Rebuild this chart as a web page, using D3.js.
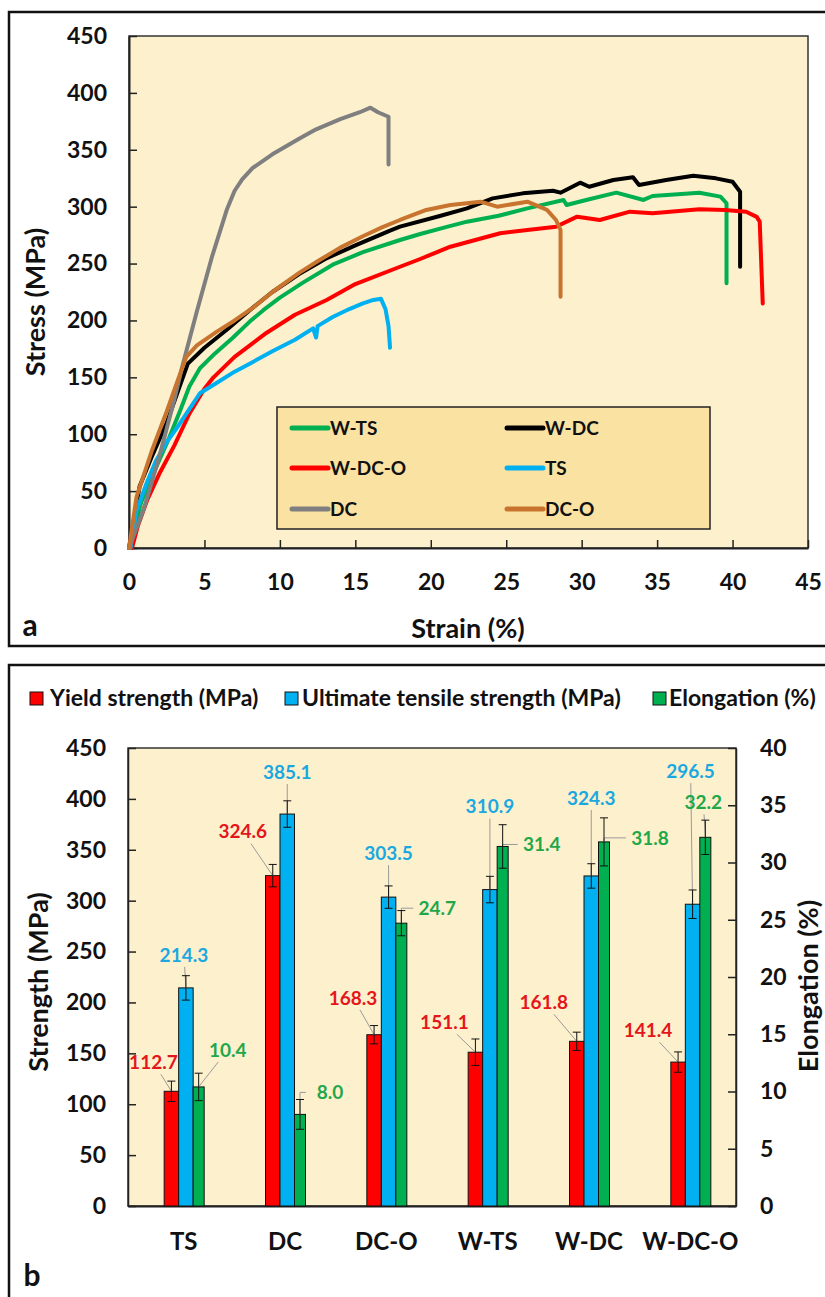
<!DOCTYPE html>
<html>
<head>
<meta charset="utf-8">
<script src="https://cdn.jsdelivr.net/npm/d3@7"></script>
<style>
  body { margin: 0; background: #fff; }
  svg text { font-family: Lato, "Open Sans", sans-serif; font-weight: 700; }
</style>
</head>
<body>
<svg id="chart" width="825" height="1297"></svg>
<script>
// ---- panel a: stress-strain curves, [strain %, stress MPa]
const curveNames = ["W-TS", "W-DC", "W-DC-O", "TS", "DC", "DC-O"]
const curveColors = ["#00B050", "#000000", "#FF0000", "#00B0F0", "#7F7F7F", "#C8742F"]

const wTS = [[0,0],[0.8,40],[1.8,71],[2.6,95],[3.4,121],[4,142],[4.7,158],[5.7,171],[6.9,185],[8,199],[8.9,209],[10,220],
  [11.5,233],[13.5,249],[15.5,260],[17.96,270.7],[19.3,276],[21,282],[22.4,286.8],[24.5,292],[26.4,298.5],[28.8,305.9],
  [29,301.5],[30.3,305.9],[32.3,312.3],[34.1,305.9],[34.7,309.4],[37.8,312.3],[39.2,308.8],[39.6,303],[39.6,232.6]]
const wDC = [[0,0],[0.7,54],[1.5,80],[2.5,110],[3.3,140],[3.9,162],[5,176],[6.5,192],[8,209],[9.5,225],[11.3,241],[13,254],
  [15,266],[17.3,279],[17.96,282.4],[20.6,291.8],[22.4,298.5],[24.1,307.3],[26.1,311.7],[28.1,314],[28.6,312.3],[29.9,321.1],
  [30.5,317.5],[32.1,323.4],[33.4,325.8],[33.8,319],[35.6,323.4],[37.4,327.2],[38.9,324.9],[40,321.9],[40.5,313.1],[40.5,247.2]]
const wDCO = [[0.2,0],[0.6,20],[1.2,42],[2,65],[3,90],[4,118],[5,140],[5.6,150],[7,168],[9.1,189],[11,205],[13.1,218],
  [15,232],[17.96,247.2],[19.3,254],[21.3,264.8],[24.6,276.6],[26.4,279.5],[28.3,282.4],[29.7,291.2],[31.2,288.3],
  [33.2,295.6],[34.7,294.2],[37.8,297.7],[39.5,297],[40.9,295.6],[41.6,291],[41.8,286.8],[42,215]]
const tsCurve = [[0.1,0],[0.5,33],[1.2,58],[1.8,77],[2.5,93],[3.2,106],[4,122],[4.7,136],[5.8,145],[7,155],[8,162],
  [9.5,173],[11,183],[12.2,193],[12.4,185],[12.5,195],[13.5,203],[14.6,210],[15.5,215],[16.2,218],[16.7,219],
  [17,210],[17.2,195],[17.3,176]]
const dcCurve = [[0,0],[1,35],[2,80],[3,130],[3.5,158],[4.5,208],[5.5,256],[6.5,298],[7,314],[7.5,324],[8.2,334],[9.5,346],
  [11.3,360],[12.4,368],[14,377],[15.3,383],[16,387],[16.5,383],[17.2,379],[17.2,337]]
const dcoCurve = [[0,0],[0.5,45],[1.5,85],[2.5,120],[3.3,150],[3.8,168],[4.5,178],[5.8,190],[7,200],[8.2,211],[9.5,225],
  [11.3,242],[12.5,252],[14,264],[15.5,274],[16.8,282],[17.96,288.3],[19.7,297.1],[21.3,301.5],[23.3,304.4],[24.4,300],
  [26.4,304.4],[27.7,297.1],[28.3,288.3],[28.6,279.5],[28.6,220.9]]
const curveData = [wTS, wDC, wDCO, tsCurve, dcCurve, dcoCurve]

const strainTicks = [0, 5, 10, 15, 20, 25, 30, 35, 40, 45]
const stressTicks = [0, 50, 100, 150, 200, 250, 300, 350, 400, 450]

// ---- panel b: mechanical properties
const categories = ["TS", "DC", "DC-O", "W-TS", "W-DC", "W-DC-O"]
const yieldStrength = [112.7, 324.6, 168.3, 151.1, 161.8, 141.4]
const yieldErr = [10, 11, 9, 13, 9, 10]
const uts = [214.3, 385.1, 303.5, 310.9, 324.3, 296.5]
const utsErr = [12, 13, 11, 13, 12, 14]
const elongation = [10.4, 8.0, 24.7, 31.4, 31.8, 32.2]
const elongErr = [1.2, 1.3, 1.1, 1.9, 2.1, 1.5]
const strengthTicks = [0, 50, 100, 150, 200, 250, 300, 350, 400, 450]
const elongTicks = [0, 5, 10, 15, 20, 25, 30, 35, 40]
const seriesNames = ["Yield strength (MPa)", "Ultimate tensile strength (MPa)", "Elongation (%)"]

// label placement (offset from bar top) and leader style
const yieldLabelPos = [[-18,-29],[-30,-44],[-21,-37],[-31,-30],[-33,-39],[-30,-32]]
const utsLabelPos = [[-2,-33],[0,-42],[0,-44],[0,-83],[0,-78],[-2,-133]]
const elongLabelPos = [[29,-37,"line"],[30,-22,"elbow"],[36,-15,"elbow"],[39,-2,"elbow"],[46,-4,"elbow"],[-2,-35,"line"]]

const svg = d3.select("#chart")
const PLOT_BG = "#FDF0CD"
const TICK_FS = 23, TITLE_FS = 27

// panel frames
svg.append("rect").attr("x", 9).attr("y", 12).attr("width", 830).attr("height", 634)
  .attr("fill", "none").attr("stroke", "#111").attr("stroke-width", 2.5)
svg.append("rect").attr("x", 9).attr("y", 665).attr("width", 830).attr("height", 660)
  .attr("fill", "none").attr("stroke", "#111").attr("stroke-width", 2.5)

// ================= panel a =================
const xA = d3.scaleLinear().domain([0, 45]).range([129, 808])
const yA = d3.scaleLinear().domain([0, 450]).range([548, 36])

svg.append("rect").attr("x", xA(0)).attr("y", yA(450)).attr("width", xA(45) - xA(0)).attr("height", yA(0) - yA(450))
  .attr("fill", PLOT_BG).attr("stroke", "#333").attr("stroke-width", 1.5)

const axA = svg.append("g").attr("transform", `translate(0,${yA(0)})`)
  .call(d3.axisBottom(xA).tickValues(strainTicks).tickSizeInner(-8).tickSizeOuter(0).tickPadding(26))
const ayA = svg.append("g").attr("transform", `translate(${xA(0)},0)`)
  .call(d3.axisLeft(yA).tickValues(stressTicks).tickSizeInner(-8).tickSizeOuter(0).tickPadding(22))
;[axA, ayA].forEach(g => {
  g.select(".domain").attr("stroke", "#222").attr("stroke-width", 2)
  g.selectAll(".tick line").attr("stroke", "#222").attr("stroke-width", 1.5)
  g.selectAll("text").attr("font-size", TICK_FS).attr("fill", "#111")
})

const lineA = d3.line().x(d => xA(d[0])).y(d => yA(d[1]))
svg.append("g").selectAll("path").data(curveData).join("path")
  .attr("d", lineA).attr("fill", "none")
  .attr("stroke", (d, i) => curveColors[i]).attr("stroke-width", 4)
  .attr("stroke-linejoin", "round").attr("stroke-linecap", "round")

// legend
const legA = svg.append("g")
legA.append("rect").attr("x", 277).attr("y", 407).attr("width", 433).attr("height", 122)
  .attr("fill", "#FAE2A2").attr("stroke", "#222").attr("stroke-width", 1.5)
curveNames.forEach((name, i) => {
  const lx = i % 2 === 0 ? 292 : 507
  const ly = [428, 468, 509][Math.floor(i / 2)]
  legA.append("line").attr("x1", lx).attr("x2", lx + 36).attr("y1", ly).attr("y2", ly)
    .attr("stroke", curveColors[i]).attr("stroke-width", 5).attr("stroke-linecap", "round")
  legA.append("text").attr("x", lx + 38).attr("y", ly).attr("dy", "0.36em")
    .attr("font-size", 19).attr("fill", "#111").text(name)
})

svg.append("text").attr("x", 468).attr("y", 628).attr("dy", "0.36em").attr("text-anchor", "middle")
  .attr("font-size", TITLE_FS).attr("fill", "#111").text("Strain (%)")
svg.append("text").attr("transform", "translate(35,302) rotate(-90)").attr("dy", "0.36em")
  .attr("text-anchor", "middle").attr("font-size", TITLE_FS).attr("fill", "#111").text("Stress (MPa)")
svg.append("text").attr("x", 30).attr("y", 625).attr("dy", "0.36em").attr("text-anchor", "middle")
  .attr("font-size", 30).attr("fill", "#111").text("a")

// ================= panel b =================
const xB = d3.scaleBand().domain(categories).range([128, 736])
const yL = d3.scaleLinear().domain([0, 450]).range([1206, 748])
const yR = d3.scaleLinear().domain([0, 40]).range([1206, 748])
const BAR_W = 14.5, GREEN_W = 11
const center = c => xB(c) + xB.bandwidth() / 2

svg.append("rect").attr("x", 128).attr("y", yL(450)).attr("width", 608).attr("height", yL(0) - yL(450))
  .attr("fill", PLOT_BG).attr("stroke", "#333").attr("stroke-width", 1.5)

const ayL = svg.append("g").attr("transform", "translate(128,0)")
  .call(d3.axisLeft(yL).tickValues(strengthTicks).tickSizeInner(-8).tickSizeOuter(0).tickPadding(22))
const ayR = svg.append("g").attr("transform", "translate(736,0)")
  .call(d3.axisRight(yR).tickValues(elongTicks).tickSizeInner(-8).tickSizeOuter(0).tickPadding(24))
;[ayL, ayR].forEach(g => {
  g.select(".domain").attr("stroke", "#222").attr("stroke-width", 1.5)
  g.selectAll(".tick line").attr("stroke", "#222").attr("stroke-width", 1.5)
  g.selectAll("text").attr("font-size", TICK_FS).attr("fill", "#111")
})
const axB = svg.append("g").attr("transform", `translate(0,${yL(0)})`)
  .call(d3.axisBottom(xB).tickSize(0).tickPadding(27))
axB.select(".domain").attr("stroke", "#222").attr("stroke-width", 2)
axB.selectAll("text").attr("font-size", 24).attr("fill", "#111").attr("dx", 5)

const series = [
  { vals: yieldStrength, err: yieldErr, y: yL, color: "#FF0000", text: "#E4161B", x0: -BAR_W, w: BAR_W, pos: yieldLabelPos, fmt: d3.format(".1f") },
  { vals: uts, err: utsErr, y: yL, color: "#00B0F0", text: "#1BA8E0", x0: 0, w: BAR_W, pos: utsLabelPos, fmt: d3.format(".1f") },
  { vals: elongation, err: elongErr, y: yR, color: "#00B050", text: "#1FA84A", x0: BAR_W, w: GREEN_W, pos: elongLabelPos, fmt: d3.format(".1f") }
]

series.forEach(s => {
  const g = svg.append("g")
  g.selectAll("rect").data(categories).join("rect")
    .attr("x", c => center(c) + s.x0).attr("width", s.w)
    .attr("y", (c, i) => s.y(s.vals[i])).attr("height", (c, i) => s.y(0) - s.y(s.vals[i]))
    .attr("fill", s.color).attr("stroke", "#111").attr("stroke-width", 1)
})

// leader lines + labels
series.forEach(s => {
  categories.forEach((c, i) => {
    const bx = center(c) + s.x0 + s.w / 2
    const by = s.y(s.vals[i])
    const [dx, dy, kind] = s.pos[i]
    const lx = bx + dx, ly = by + dy
    const hw = 26, hh = 12
    let path
    if (kind === "elbow") {
      const sx = lx - hw + 2
      path = `M${sx},${ly}H${bx}V${by}`
    } else {
      const t = Math.min(Math.abs(dx) > 0.1 ? hw / Math.abs(dx) : 1e9, Math.abs(dy) > 0.1 ? hh / Math.abs(dy) : 1e9)
      path = `M${lx - dx * t},${ly - dy * t}L${bx},${by}`
    }
    svg.append("path").attr("d", path).attr("fill", "none").attr("stroke", "#9A9A9A").attr("stroke-width", 1)
    svg.append("text").attr("x", lx).attr("y", ly).attr("dy", "0.36em").attr("text-anchor", "middle")
      .attr("font-size", 19).attr("fill", s.text).text(s.fmt(s.vals[i]))
  })
})

// error bars
series.forEach(s => {
  categories.forEach((c, i) => {
    const bx = center(c) + s.x0 + s.w / 2
    const top = s.y(s.vals[i] + s.err[i]), bot = s.y(s.vals[i] - s.err[i])
    const eb = svg.append("g").attr("stroke", "#111").attr("stroke-width", 1)
    eb.append("line").attr("x1", bx).attr("x2", bx).attr("y1", top).attr("y2", bot)
    eb.append("line").attr("x1", bx - 4).attr("x2", bx + 4).attr("y1", top).attr("y2", top)
    eb.append("line").attr("x1", bx - 4).attr("x2", bx + 4).attr("y1", bot).attr("y2", bot)
  })
})

// legend b
const legB = [[30, 50], [285, 302], [653, 669]]
series.forEach((s, i) => {
  svg.append("rect").attr("x", legB[i][0]).attr("y", 692).attr("width", 13).attr("height", 13)
    .attr("fill", s.color).attr("stroke", "#111").attr("stroke-width", 1)
  svg.append("text").attr("x", legB[i][1]).attr("y", 698).attr("dy", "0.36em")
    .attr("font-size", 23).attr("fill", "#111").text(seriesNames[i])
})

svg.append("text").attr("transform", "translate(38,982) rotate(-90)").attr("dy", "0.36em")
  .attr("text-anchor", "middle").attr("font-size", TITLE_FS).attr("fill", "#111").text("Strength (MPa)")
svg.append("text").attr("transform", "translate(808,986) rotate(-90)").attr("dy", "0.36em")
  .attr("text-anchor", "middle").attr("font-size", TITLE_FS).attr("fill", "#111").text("Elongation (%)")
svg.append("text").attr("x", 32).attr("y", 1275).attr("dy", "0.36em").attr("text-anchor", "middle")
  .attr("font-size", 30).attr("fill", "#111").text("b")
</script>
</body>
</html>
